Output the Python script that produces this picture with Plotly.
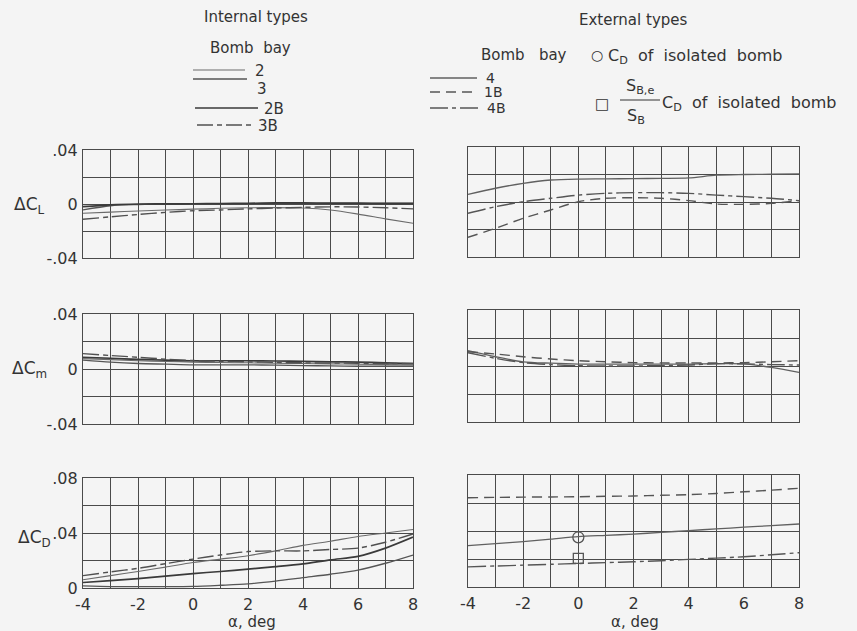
import plotly.graph_objects as go

W, H = 857, 631

alpha = [-4, -3, -2, -1, 0, 1, 2, 3, 4, 5, 6, 7, 8]

# Internal types: bomb bays 2, 3, 2B, 3B
int_cl_2 = [-0.0068, -0.0060, -0.0052, -0.0045, -0.0038, -0.0032, -0.0028, -0.0027, -0.0030, -0.0045, -0.0075, -0.0110, -0.0143]
int_cl_3 = [-0.0044, -0.0013, -0.0004, 0.0000, 0.0000, 0.0000, 0.0001, 0.0003, 0.0005, 0.0005, 0.0005, 0.0005, 0.0005]
int_cl_2b = [-0.0020, -0.0006, 0.0000, 0.0001, 0.0002, 0.0003, 0.0005, 0.0008, 0.0008, 0.0007, 0.0006, 0.0005, 0.0005]
int_cl_3b = [-0.0113, -0.0095, -0.0078, -0.0062, -0.0050, -0.0044, -0.0036, -0.0030, -0.0025, -0.0021, -0.0022, -0.0028, -0.0036]

int_cm_2 = [0.0075, 0.0068, 0.0060, 0.0055, 0.0050, 0.0047, 0.0045, 0.0042, 0.0040, 0.0037, 0.0035, 0.0032, 0.0030]
int_cm_3 = [0.0065, 0.0050, 0.0040, 0.0035, 0.0030, 0.0030, 0.0030, 0.0028, 0.0025, 0.0022, 0.0020, 0.0020, 0.0020]
int_cm_2b = [0.0085, 0.0078, 0.0070, 0.0065, 0.0060, 0.0060, 0.0060, 0.0058, 0.0055, 0.0052, 0.0050, 0.0045, 0.0040]
int_cm_3b = [0.0112, 0.0098, 0.0085, 0.0072, 0.0062, 0.0056, 0.0052, 0.0048, 0.0045, 0.0043, 0.0042, 0.0040, 0.0040]

int_cd_2 = [0.0060, 0.0090, 0.0120, 0.0152, 0.0185, 0.0210, 0.0235, 0.0270, 0.0310, 0.0340, 0.0375, 0.0400, 0.0425]
int_cd_3 = [0.0015, 0.0010, 0.0010, 0.0010, 0.0012, 0.0020, 0.0030, 0.0050, 0.0075, 0.0100, 0.0130, 0.0180, 0.0240]
int_cd_2b = [0.0040, 0.0053, 0.0068, 0.0086, 0.0105, 0.0120, 0.0138, 0.0155, 0.0175, 0.0205, 0.0230, 0.0290, 0.0370]
int_cd_3b = [0.0090, 0.0117, 0.0143, 0.0177, 0.0210, 0.0240, 0.0265, 0.0270, 0.0270, 0.0280, 0.0290, 0.0333, 0.0393]

# External types: bomb bays 4, 1B, 4B
ext_cl_4 = [0.0056, 0.0100, 0.0136, 0.0160, 0.0167, 0.0168, 0.0170, 0.0172, 0.0175, 0.0195, 0.0200, 0.0202, 0.0205]
ext_cl_1b = [-0.0257, -0.0191, -0.0119, -0.0058, 0.0002, 0.0027, 0.0031, 0.0027, 0.0010, -0.0015, -0.0017, -0.0010, 0.0010]
ext_cl_4b = [-0.0082, -0.0034, 0.0002, 0.0027, 0.0050, 0.0063, 0.0068, 0.0068, 0.0063, 0.0050, 0.0039, 0.0027, 0.0010]

ext_cm_4 = [0.0110, 0.0066, 0.0030, 0.0020, 0.0014, 0.0014, 0.0014, 0.0014, 0.0014, 0.0016, 0.0015, -0.0010, -0.0045]
ext_cm_1b = [0.0102, 0.0086, 0.0066, 0.0050, 0.0038, 0.0030, 0.0024, 0.0022, 0.0022, 0.0022, 0.0024, 0.0030, 0.0038]
ext_cm_4b = [0.0095, 0.0055, 0.0024, 0.0010, 0.0002, 0.0000, 0.0000, 0.0003, 0.0007, 0.0017, 0.0015, 0.0010, 0.0007]

ext_cd_4 = [0.0295, 0.0310, 0.0324, 0.0342, 0.0360, 0.0369, 0.0378, 0.0390, 0.0403, 0.0415, 0.0427, 0.0438, 0.0450]
ext_cd_1b = [0.0638, 0.0640, 0.0642, 0.0643, 0.0645, 0.0648, 0.0650, 0.0655, 0.0660, 0.0668, 0.0680, 0.0692, 0.0705]
ext_cd_4b = [0.0144, 0.0150, 0.0156, 0.0162, 0.0168, 0.0174, 0.0180, 0.0188, 0.0197, 0.0206, 0.0216, 0.0230, 0.0245]

# Isolated-bomb drag at alpha = 0
iso_alpha = [0]
iso_cd = [0.0355]
iso_cd_scaled = [0.0205]

# Axis ticks
x_tickvals = [-4, -2, 0, 2, 4, 6, 8]
x_ticktext = ["-4", "-2", "0", "2", "4", "6", "8"]
cl_tickvals = [-0.04, 0, 0.04]
cl_ticktext = ["-.04", "0", ".04"]
cd_tickvals = [0, 0.04, 0.08]
cd_ticktext = ["0", ".04", ".08"]

FONT = "DejaVu Sans"
GRID = "#4a4a4a"
TXT = "#333333"
BG = "#f4f4f4"

STYLE = {
    "2": dict(color="#6a6a6a", width=1.1, dash="solid"),
    "3": dict(color="#555555", width=1.3, dash="solid"),
    "2B": dict(color="#3a3a3a", width=1.7, dash="solid"),
    "3B": dict(color="#505050", width=1.4, dash="16px,4px,5px,4px"),
    "4": dict(color="#606060", width=1.3, dash="solid"),
    "1B": dict(color="#555555", width=1.4, dash="10px,6px"),
    "4B": dict(color="#555555", width=1.4, dash="18px,4px,4px,4px"),
}


def px_x(p):
    return p / W


def px_y(p):
    return 1 - p / H


fig = go.Figure()

# panel placement in pixels: (x span, y span)
panels = {
    1: ((83, 413), (150, 258)),
    2: ((468, 799), (147, 257)),
    3: ((83, 413), (314, 424)),
    4: ((468, 799), (310, 422)),
    5: ((83, 413), (478, 588)),
    6: ((468, 799), (475, 587)),
}

series = {
    1: [("2", int_cl_2), ("3", int_cl_3), ("2B", int_cl_2b), ("3B", int_cl_3b)],
    2: [("4", ext_cl_4), ("1B", ext_cl_1b), ("4B", ext_cl_4b)],
    3: [("2", int_cm_2), ("3", int_cm_3), ("2B", int_cm_2b), ("3B", int_cm_3b)],
    4: [("4", ext_cm_4), ("1B", ext_cm_1b), ("4B", ext_cm_4b)],
    5: [("2", int_cd_2), ("3", int_cd_3), ("2B", int_cd_2b), ("3B", int_cd_3b)],
    6: [("4", ext_cd_4), ("1B", ext_cd_1b), ("4B", ext_cd_4b)],
}

for k, lines in series.items():
    sfx = "" if k == 1 else str(k)
    for name, vals in lines:
        st = STYLE[name]
        fig.add_trace(go.Scatter(
            x=alpha, y=vals, mode="lines", name=name, showlegend=False,
            line=dict(color=st["color"], width=st["width"], dash=st["dash"], shape="spline", smoothing=0.8),
            xaxis="x" + sfx, yaxis="y" + sfx, hoverinfo="skip"))

fig.add_trace(go.Scatter(
    x=iso_alpha, y=iso_cd, mode="markers", showlegend=False,
    marker=dict(symbol="circle-open", size=11, color="#555555", line=dict(width=1.3)),
    xaxis="x6", yaxis="y6"))
fig.add_trace(go.Scatter(
    x=iso_alpha, y=iso_cd_scaled, mode="markers", showlegend=False,
    marker=dict(symbol="square-open", size=10, color="#555555", line=dict(width=1.3)),
    xaxis="x6", yaxis="y6"))

layout = dict(
    width=W, height=H, margin=dict(l=0, r=0, t=0, b=0, autoexpand=False),
    paper_bgcolor=BG, plot_bgcolor=BG,
    font=dict(family=FONT, color=TXT),
    showlegend=False,
)

for k, ((x0, x1), (y0, y1)) in panels.items():
    sfx = "" if k == 1 else str(k)
    bottom = k in (5, 6)
    left = k in (1, 3, 5)
    layout["xaxis" + sfx] = dict(
        domain=[px_x(x0), px_x(x1)], anchor="y" + sfx, range=[-4, 8], automargin=False,
        tickmode="array", tickvals=x_tickvals, ticktext=x_ticktext, showticklabels=bottom,
        tickfont=dict(size=16, color=TXT), ticks="", ticklabelstandoff=2,
        showgrid=True, gridcolor=GRID, gridwidth=1.2,
        minor=dict(tickmode="linear", tick0=-4, dtick=1, showgrid=True, gridcolor=GRID, gridwidth=1.2),
        showline=True, mirror=True, linecolor=GRID, linewidth=1.4, zeroline=False,
    )
    if k in (5, 6):
        yr, tv, tt = [0, 0.08], cd_tickvals, cd_ticktext
    else:
        yr, tv, tt = [-0.04, 0.04], cl_tickvals, cl_ticktext
    layout["yaxis" + sfx] = dict(
        domain=[px_y(y1), px_y(y0)], anchor="x" + sfx, range=yr, automargin=False,
        tickmode="array", tickvals=tv, ticktext=tt, showticklabels=left,
        tickfont=dict(size=16, color=TXT), ticks="", ticklabelstandoff=1,
        showgrid=True, gridcolor=GRID, gridwidth=1.2,
        minor=dict(tickmode="linear", tick0=yr[0], dtick=0.02, showgrid=True, gridcolor=GRID, gridwidth=1.2),
        showline=True, mirror=True, linecolor=GRID, linewidth=1.4, zeroline=False,
    )

fig.update_layout(**layout)

ann = []


def text(x, y, s, size=14, xanchor="center", yanchor="middle"):
    ann.append(dict(x=px_x(x), y=px_y(y), xref="paper", yref="paper", text=s, showarrow=False,
                    xanchor=xanchor, yanchor=yanchor, font=dict(size=size, family=FONT, color=TXT)))


# y-axis titles
text(30, 205, "ΔC<sub>L</sub>", 17)
text(30, 369, "ΔC<sub>m</sub>", 17)
text(34, 538, "ΔC<sub>D</sub>", 17)

# x-axis titles
text(252, 622, "α, deg", 15)
text(635, 622, "α, deg", 15)

shapes = []

# internal-type legend
text(256, 17, "Internal types", 15)
text(250, 48, "Bomb  bay", 15)
int_legend = [("2", 70, 193, 245, 71), ("3", 79, 193, 247, 89), ("2B", 108, 195, 258, 109), ("3B", 125, 197, 252, 126)]
for name, ly, lx0, lx1, ty in int_legend:
    st = STYLE[name]
    shapes.append(dict(type="line", xref="paper", yref="paper", x0=px_x(lx0), x1=px_x(lx1), y0=px_y(ly), y1=px_y(ly),
                       line=dict(color=st["color"], width=st["width"], dash=st["dash"])))
    text(lx1 + 8 if name in ("2", "3") else lx1 + 4, ty, name, 15, "left")

# external-type legend
text(633, 20, "External types", 15)
text(524, 55, "Bomb   bay", 15)
ext_legend = [("4", 78, 430, 477), ("1B", 92, 430, 475), ("4B", 108, 430, 478)]
for name, ly, lx0, lx1 in ext_legend:
    st = STYLE[name]
    shapes.append(dict(type="line", xref="paper", yref="paper", x0=px_x(lx0), x1=px_x(lx1), y0=px_y(ly), y1=px_y(ly),
                       line=dict(color=st["color"], width=st["width"], dash=st["dash"])))
    text(lx1 + 7, ly, name, 14, "left")

text(597, 55, "○", 14)
text(606, 57, "C<sub>D</sub>  of  isolated  bomb", 16, "left")
text(602, 104, "□", 15)
text(640, 87, "S<sub>B,e</sub>", 16)
shapes.append(dict(type="line", xref="paper", yref="paper", x0=px_x(620), x1=px_x(660), y0=px_y(100), y1=px_y(100),
                   line=dict(color=TXT, width=1.2)))
text(636, 116, "S<sub>B</sub>", 16)
text(660, 103, "C<sub>D</sub>  of  isolated  bomb", 16, "left")

fig.update_layout(annotations=ann, shapes=shapes)

fig.write_html("out.html")
